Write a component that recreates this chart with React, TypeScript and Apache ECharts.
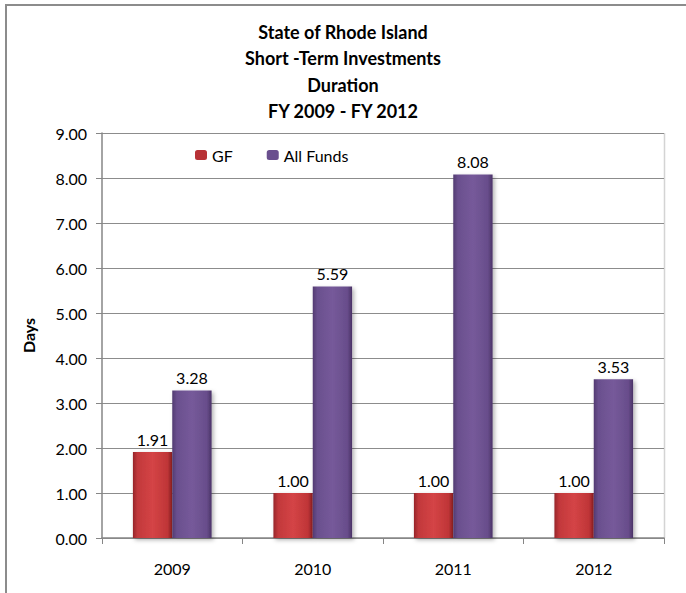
import React, { useEffect, useRef } from "react";
import * as echarts from "echarts";

const categories = ["2009", "2010", "2011", "2012"];
const gfValues = [1.91, 1.0, 1.0, 1.0];
const allFundsValues = [3.28, 5.59, 8.08, 3.53];
const titleLines = ["State of Rhode Island", "Short -Term Investments", "Duration", "FY 2009 - FY 2012"];
const yMin = 0;
const yMax = 9;
const yInterval = 1;

const FONT = "Lato, 'Open Sans', sans-serif";

const redGrad = new echarts.graphic.LinearGradient(0, 0, 1, 0, [
  { offset: 0, color: "#97262a" },
  { offset: 0.12, color: "#c2383b" },
  { offset: 0.5, color: "#d44446" },
  { offset: 0.88, color: "#bf3537" },
  { offset: 1, color: "#861d20" },
]);
const purpleGrad = new echarts.graphic.LinearGradient(0, 0, 1, 0, [
  { offset: 0, color: "#523b72" },
  { offset: 0.12, color: "#6a4f8e" },
  { offset: 0.5, color: "#765a9a" },
  { offset: 0.88, color: "#684d8b" },
  { offset: 1, color: "#4a3366" },
]);

export default function App() {
  const ref = useRef<HTMLDivElement>(null);
  useEffect(() => {
    if (!ref.current) return;
    const chart = echarts.init(ref.current, undefined, { renderer: "svg" });
    const labelStyle = {
      show: true,
      position: "top" as const,
      distance: 5,
      fontFamily: FONT,
      fontSize: 16,
      color: "#000",
      formatter: (p: any) => Number(p.value).toFixed(2),
    };
    chart.setOption({
      animation: false,
      backgroundColor: "#fff",
      textStyle: { fontFamily: FONT },
      title: {
        text: titleLines.join("\n"),
        left: "center",
        top: 14,
        textStyle: {
          fontFamily: FONT,
          fontSize: 18,
          fontWeight: "bold",
          color: "#000",
          lineHeight: 26.3,
        },
      },
      graphic: [
        {
          type: "rect",
          shape: { x: 6, y: 5, width: 720, height: 700 },
          style: { fill: "none", stroke: "#8c8c8c", lineWidth: 2 },
          silent: true,
        },
        {
          type: "line",
          shape: { x1: 664.5, y1: 133, x2: 664.5, y2: 538 },
          style: { stroke: "#d4d4d4", lineWidth: 1.5 },
          silent: true,
        },
      ],
      legend: {
        left: 190,
        top: 142,
        itemWidth: 12,
        itemHeight: 10,
        itemGap: 34,
        textStyle: { fontFamily: FONT, fontSize: 16, color: "#000" },
        data: [
          { name: "GF", itemStyle: { color: "#b83236" } },
          { name: "All Funds", itemStyle: { color: "#6a4f8e" } },
        ],
      },
      grid: { left: 102, right: 22, top: 133, bottom: 55 },
      xAxis: {
        type: "category",
        data: categories,
        axisLine: { lineStyle: { color: "#868686", width: 1.5 } },
        axisTick: { show: true, length: 6, lineStyle: { color: "#868686" } },
        axisLabel: { margin: 22, fontSize: 16, color: "#000", fontFamily: FONT },
      },
      yAxis: {
        type: "value",
        min: yMin,
        max: yMax,
        interval: yInterval,
        name: "Days",
        nameLocation: "middle",
        nameGap: 66,
        nameTextStyle: { fontFamily: FONT, fontSize: 16, fontWeight: "bold", color: "#000" },
        axisLine: { show: true, lineStyle: { color: "#868686", width: 1.5 } },
        axisTick: { show: true, length: 6, lineStyle: { color: "#868686" } },
        splitLine: { lineStyle: { color: "#8c8c8c", width: 1 } },
        axisLabel: {
          margin: 15,
          fontSize: 16,
          color: "#000",
          fontFamily: FONT,
          formatter: (v: number) => v.toFixed(2),
        },
      },
      series: [
        {
          name: "GF",
          type: "bar",
          data: gfValues,
          barGap: "0%",
          barCategoryGap: "44%",
          itemStyle: {
            color: redGrad,
            shadowBlur: 4,
            shadowOffsetX: 2,
            shadowOffsetY: 2,
            shadowColor: "rgba(0,0,0,0.3)",
          },
          label: labelStyle,
        },
        {
          name: "All Funds",
          type: "bar",
          data: allFundsValues,
          itemStyle: {
            color: purpleGrad,
            shadowBlur: 4,
            shadowOffsetX: 2,
            shadowOffsetY: 2,
            shadowColor: "rgba(0,0,0,0.3)",
          },
          label: labelStyle,
        },
      ],
    });
    return () => chart.dispose();
  }, []);
  return (
    <div
      ref={ref}
      style={{ position: "fixed", left: 0, top: 0, width: 686, height: 593 }}
    />
  );
}
